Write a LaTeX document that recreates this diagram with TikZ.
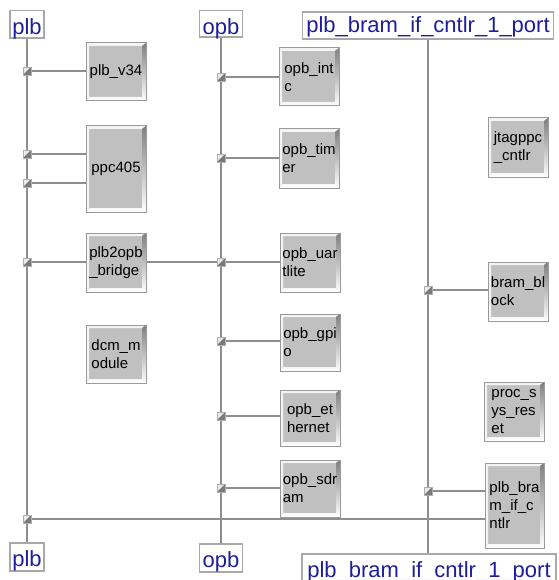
\documentclass[tikz,border=0pt]{standalone}
\usepackage{fontspec}
\setmainfont{Liberation Sans}
\pgfdeclarelayer{bg}
\pgfsetlayers{bg,main}
\definecolor{wirec}{HTML}{8E8E8E}
\definecolor{boxfill}{HTML}{C0C0C0}
\definecolor{boxline}{HTML}{9A9A9A}
\definecolor{hilite}{HTML}{F4F4F4}
\definecolor{shade}{HTML}{808080}
\definecolor{lblline}{HTML}{A8A8A8}
\definecolor{lbltext}{HTML}{1E1E9C}
\definecolor{jlight}{HTML}{EAEAEA}
\definecolor{jdark}{HTML}{7A7A7A}
\tikzset{
  ipbox/.style={draw=boxline, fill=boxfill, line width=1pt, inner sep=1pt,
    align=left, text=black, font=\fontsize{15}{18}\selectfont,
    path picture={
      \fill[hilite] (path picture bounding box.north west) -- (path picture bounding box.north east)
        -- ([xshift=-4pt,yshift=-3pt]path picture bounding box.north east)
        -- ([xshift=3pt,yshift=-3pt]path picture bounding box.north west)
        -- ([xshift=3pt,yshift=4pt]path picture bounding box.south west)
        -- (path picture bounding box.south west) -- cycle;
      \fill[shade] (path picture bounding box.south east) -- (path picture bounding box.north east)
        -- ([xshift=-4pt,yshift=-3pt]path picture bounding box.north east)
        -- ([xshift=-4pt,yshift=4pt]path picture bounding box.south east)
        -- ([xshift=3pt,yshift=4pt]path picture bounding box.south west)
        -- (path picture bounding box.south west) -- cycle;
    }},
  portlbl/.style={draw=lblline, fill=white, line width=1.5pt, inner sep=0pt,
    text=lbltext, font=\fontsize{22}{24}\selectfont, anchor=base},
  junc/.style={minimum size=8pt, inner sep=0pt, fill=jlight, draw=jdark!60, line width=0.5pt,
    path picture={\fill[jdark] (path picture bounding box.north east) -- (path picture bounding box.south east) -- (path picture bounding box.south west) -- cycle;}},
  wire/.style={draw=wirec, line width=2pt},
}
\begin{document}
\begin{tikzpicture}[x=1pt,y=-1pt]
\useasboundingbox (0,0) rectangle (558,580);
\clip (0,0) rectangle (558,580);
\begin{pgfonlayer}{bg}
\fill[white] (0,0) rectangle (558,580);
\end{pgfonlayer}

% bus labels
\node[portlbl, minimum width=34pt, text height=24pt, text depth=3.5pt] (plbtop) at (27,34.5) {plb};
\node[portlbl, minimum width=43pt, text height=24pt, text depth=2.5pt] (opbtop) at (221,34.5) {opb};
\node[portlbl, minimum width=251pt, text height=20.5pt, text depth=6.5pt] (brtop) at (428,32.5) {plb\_bram\_if\_cntlr\_1\_port};
\node[portlbl, minimum width=34pt, text height=23pt, text depth=5pt] (plbbot) at (27,566) {plb};
\node[portlbl, minimum width=43pt, text height=23pt, text depth=5pt] (opbbot) at (221,567) {opb};
\node[portlbl, minimum width=254pt, text height=23.5pt, text depth=20pt] (brbot) at (429,577.5) {plb\_bram\_if\_cntlr\_1\_port};

% IP blocks
\node[ipbox, minimum width=60pt, minimum height=58pt] (v34) at (116,72) {plb\_v34};
\node[ipbox, minimum width=60pt, minimum height=86pt] (ppc) at (116,169) {ppc405};
\node[ipbox, minimum width=60pt, minimum height=59pt] (bridge) at (116,262.5) {plb2opb\\\_bridge};
\node[ipbox, minimum width=60pt, minimum height=58pt] (dcm) at (116,354) {dcm\_m\\odule};
\node[ipbox, minimum width=60pt, minimum height=58pt] (intc) at (309,77) {opb\_int\\c};
\node[ipbox, minimum width=60pt, minimum height=59pt] (timer) at (309,158.5) {opb\_tim\\er};
\node[ipbox, minimum width=60pt, minimum height=59pt] (uart) at (310,262.5) {opb\_uar\\tlite};
\node[ipbox, minimum width=60pt, minimum height=57pt] (gpio) at (310,342.5) {opb\_gpi\\o};
\node[ipbox, minimum width=60pt, minimum height=56pt] (eth) at (310,418) {opb\_et\\hernet};
\node[ipbox, minimum width=60pt, minimum height=57pt] (sdram) at (310,488.5) {opb\_sdr\\am};
\node[ipbox, minimum width=60pt, minimum height=59pt] (jtag) at (518,147.5) {jtagppc\\\_cntlr};
\node[ipbox, minimum width=60pt, minimum height=59pt] (bram) at (518,291.5) {bram\_bl\\ock};
\node[ipbox, minimum width=60pt, minimum height=59pt] (rst) at (514,411.5) {proc\_s\\ys\_res\\et};
\node[ipbox, minimum width=59pt, minimum height=85pt] (bctl) at (514.5,505.5) {plb\_bra\\m\_if\_c\\ntlr};

% junctions
\node[junc] (p1) at (27,71) {};
\node[junc] (p2) at (27,154) {};
\node[junc] (p3) at (27,183) {};
\node[junc] (p4) at (27,262) {};
\node[junc] (p5) at (27,519) {};
\node[junc] (o1) at (221,77) {};
\node[junc] (o2) at (221,158) {};
\node[junc] (o3) at (221,262) {};
\node[junc] (o4) at (221,341) {};
\node[junc] (o5) at (221,416) {};
\node[junc] (o6) at (221,488) {};
\node[junc] (b1) at (428,290) {};
\node[junc] (b2) at (428,491) {};

\begin{pgfonlayer}{bg}
% buses
\draw[wire] (plbtop.south) -- (plbtop.south |- plbbot.north);
\draw[wire] (opbtop.south) -- (opbtop.south |- opbbot.north);
\draw[wire] (brtop.south) -- (brtop.south |- brbot.north);
% plb connections
\draw[wire] (p1.center) -- (p1.center -| v34.west);
\draw[wire] (p2.center) -- (p2.center -| ppc.west);
\draw[wire] (p3.center) -- (p3.center -| ppc.west);
\draw[wire] (p4.center) -- (p4.center -| bridge.west);
\draw[wire] (p5.center) -- (p5.center -| bctl.west);
% opb connections
\draw[wire] (o1.center) -- (o1.center -| intc.west);
\draw[wire] (o2.center) -- (o2.center -| timer.west);
\draw[wire] (bridge.east |- o3.center) -- (o3.center) -- (o3.center -| uart.west);
\draw[wire] (o4.center) -- (o4.center -| gpio.west);
\draw[wire] (o5.center) -- (o5.center -| eth.west);
\draw[wire] (o6.center) -- (o6.center -| sdram.west);
% bram connections
\draw[wire] (b1.center) -- (b1.center -| bram.west);
\draw[wire] (b2.center) -- (b2.center -| bctl.west);
\end{pgfonlayer}
\end{tikzpicture}
\end{document}
